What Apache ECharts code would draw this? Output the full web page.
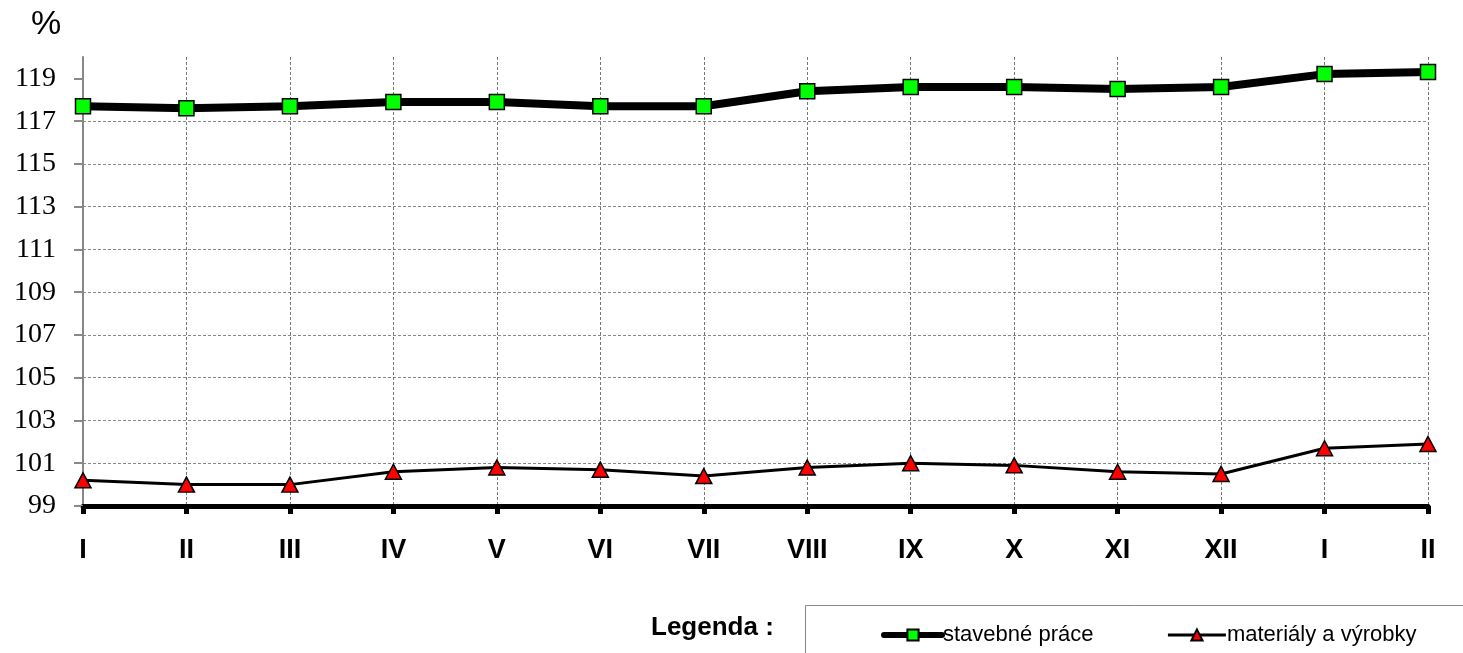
<!DOCTYPE html>
<html>
<head>
<meta charset="utf-8">
<script src="https://cdn.jsdelivr.net/npm/echarts@6/dist/echarts.min.js"></script>
<style>
html,body{margin:0;padding:0;background:#fff;}
#chart{width:1463px;height:653px;}
</style>
</head>
<body>
<div id="chart"></div>
<script>
var categories = ['I','II','III','IV','V','VI','VII','VIII','IX','X','XI','XII','I','II'];
var stavebnePrace = [117.7,117.6,117.7,117.9,117.9,117.7,117.7,118.4,118.6,118.6,118.5,118.6,119.2,119.3];
var materialy = [100.2,100.0,100.0,100.6,100.8,100.7,100.4,100.8,101.0,100.9,100.6,100.5,101.7,101.9];
var yTicks = [99,101,103,105,107,109,111,113,115,117,119];
var seriesNames = ['stavebné práce','materiály a výrobky'];

var chart = echarts.init(document.getElementById('chart'));
var option = {
  animation: false,
  backgroundColor: '#fff',
  grid: {left: 83, right: 35, top: 57, bottom: 147, containLabel: false},
  graphic: [
    {type:'text', left: 31, top: 8, style:{text:'%', font:'34px "Liberation Sans", Arial, sans-serif', fill:'#000'}},
    {type:'text', left: 651, top: 615, style:{text:'Legenda :', font:'bold 26px "Liberation Sans", Arial, sans-serif', fill:'#000'}},
    {type:'rect', shape:{x:805.5, y:605.5, width:800, height:200}, style:{fill:'none', stroke:'#888', lineWidth:1}}
  ],
  legend: {
    left: 876, top: 619,
    itemWidth: 58, itemHeight: 14, itemGap: 73,
    textStyle: {fontFamily:'"Liberation Sans", Arial, sans-serif', fontSize: 22, color:'#000', padding:[0,0,0,-4]},
    data: [
      {name: seriesNames[0], lineStyle: {width: 6, cap: 'round'}},
      {name: seriesNames[1], lineStyle: {width: 3}}
    ]
  },
  xAxis: {
    type: 'category',
    boundaryGap: false,
    data: categories,
    axisLine: {lineStyle: {color:'#000', width: 5}},
    axisTick: {show:true, length: 8, lineStyle:{color:'#000', width:5}},
    axisLabel: {margin: 31, fontFamily:'"Liberation Sans", Arial, sans-serif', fontWeight:'bold', fontSize: 27, color:'#000'},
    splitLine: {show: true, lineStyle: {color:'#777', width:1, type:[3,2]}}
  },
  yAxis: {
    type: 'value',
    min: 99, max: 120,
    interval: 2,
    axisLine: {show:true, lineStyle:{color:'#888', width:2}},
    axisTick: {show:true, length: 9, lineStyle:{color:'#888', width:2}, customValues: yTicks},
    axisLabel: {margin: 27, fontFamily:'"Liberation Serif", "Times New Roman", serif', fontSize: 28, color:'#000', customValues: yTicks},
    splitLine: {show:true, showMinLine:false, showMaxLine:false, lineStyle:{color:'#888', width:1, type:[3,2]}}
  },
  series: [
    {
      name: seriesNames[0],
      type: 'line',
      data: stavebnePrace,
      symbol: 'rect',
      symbolSize: 15,
      lineStyle: {color:'#000', width: 8},
      itemStyle: {color:'#00ff00', borderColor:'#000', borderWidth:1.5},
      z: 3
    },
    {
      name: seriesNames[1],
      type: 'line',
      data: materialy,
      symbol: 'triangle',
      symbolSize: [16, 15],
      lineStyle: {color:'#000', width: 3},
      itemStyle: {color:'#ff0000', borderColor:'#000', borderWidth:1.5},
      z: 3
    }
  ]
};
chart.setOption(option);
</script>
</body>
</html>
